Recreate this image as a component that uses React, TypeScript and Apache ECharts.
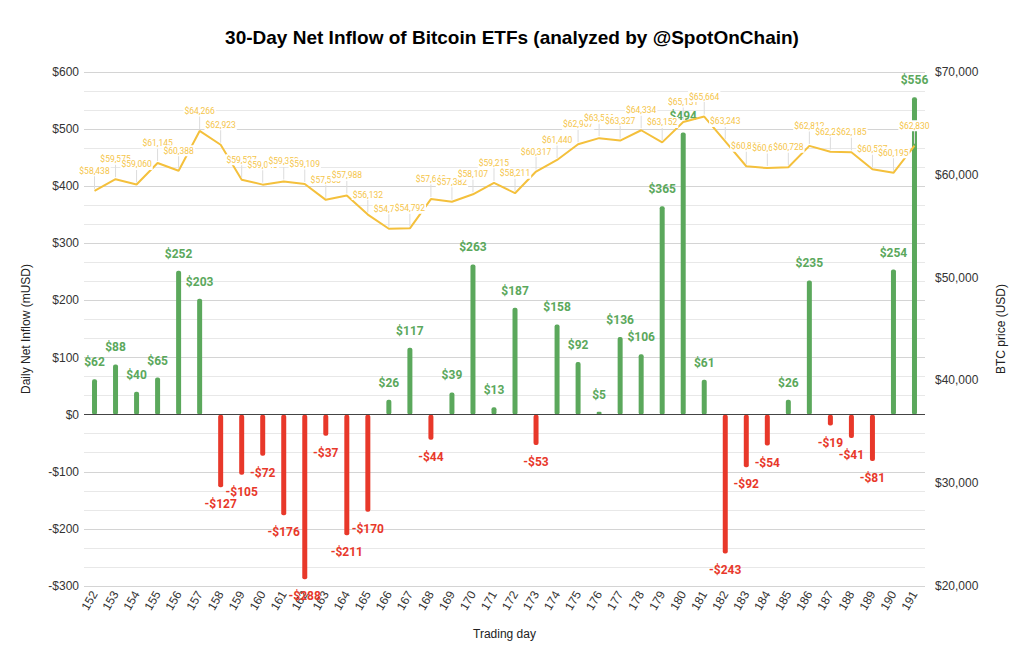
import React, { useEffect, useRef } from "react";
import * as echarts from "echarts";

const tradingDays = [
  "152", "153", "154", "155", "156", "157", "158", "159", "160", "161",
  "162", "163", "164", "165", "166", "167", "168", "169", "170", "171",
  "172", "173", "174", "175", "176", "177", "178", "179", "180", "181",
  "182", "183", "184", "185", "186", "187", "188", "189", "190", "191",
];

const netInflow = [
  62, 88, 40, 65, 252, 203, -127, -105, -72, -176,
  -288, -37, -211, -170, 26, 117, -44, 39, 263, 13,
  187, -53, 158, 92, 5, 136, 106, 365, 494, 61,
  -243, -92, -54, 26, 235, -19, -41, -81, 254, 556,
];

const btcPrice = [
  58438, 59575, 59060, 61145, 60388, 64266, 62923, 59527, 59043, 59352,
  59109, 57563, 57988, 56132, 54750, 54792, 57640, 57382, 58107, 59215,
  58211, 60317, 61440, 62967, 63566, 63327, 64334, 63152, 65131, 65664,
  63243, 60833, 60650, 60728, 62812, 62250, 62185, 60537, 60195, 62830,
];

const inflowAxis = { min: -300, max: 600, interval: 100 };
const priceAxis = { min: 20000, max: 70000, interval: 10000 };

const GREEN = "#5ba85c";
const RED = "#e8382a";
const YELLOW = "#f4c03c";
const AXIS_FONT = "'Liberation Sans', Arial, sans-serif";

const fmtInflow = (v: number) => (v < 0 ? "-$" + Math.abs(v) : "$" + v);
const fmtPrice = (v: number) => "$" + v.toLocaleString("en-US");

export default function App() {
  const ref = useRef<HTMLDivElement>(null);

  useEffect(() => {
    if (!ref.current) return;
    const chart = echarts.init(ref.current, undefined, { renderer: "svg" });

    const barData = netInflow.map((v) => ({
      value: v,
      itemStyle: { color: v >= 0 ? GREEN : RED },
      label: {
        position: v >= 0 ? "top" : "bottom",
        color: v >= 0 ? GREEN : RED,
      },
    }));

    chart.setOption({
      animation: false,
      backgroundColor: "#ffffff",
      title: {
        text: "30-Day Net Inflow of Bitcoin ETFs (analyzed by @SpotOnChain)",
        left: "center",
        top: 23,
        textStyle: {
          fontFamily: AXIS_FONT,
          fontSize: 19,
          fontWeight: "bold",
          color: "#000",
        },
      },
      grid: { left: 84, right: 99, top: 72, bottom: 71 },
      xAxis: {
        type: "category",
        data: tradingDays,
        boundaryGap: true,
        axisLine: { show: false, onZero: false },
        axisTick: { show: false },
        axisLabel: {
          rotate: 60,
          fontFamily: AXIS_FONT,
          fontSize: 12,
          color: "#333",
          margin: 6,
          interval: 0,
        },
        name: "Trading day",
        nameLocation: "middle",
        nameGap: 42,
        nameTextStyle: { fontFamily: AXIS_FONT, fontSize: 12, color: "#222" },
      },
      yAxis: [
        {
          type: "value",
          min: inflowAxis.min,
          max: inflowAxis.max,
          interval: inflowAxis.interval,
          axisLine: { show: false },
          axisTick: { show: false },
          axisLabel: {
            formatter: (v: number) => fmtInflow(v),
            fontFamily: AXIS_FONT,
            fontSize: 12,
            color: "#333",
            margin: 5,
          },
          splitLine: { show: true, lineStyle: { color: "#d4d4d4", width: 1 } },
          minorTick: { show: false, splitNumber: 3 },
          minorSplitLine: { show: true, lineStyle: { color: "#e8e8e8", width: 1 } },
          name: "Daily Net Inflow (mUSD)",
          nameLocation: "middle",
          nameGap: 52,
          nameTextStyle: { fontFamily: AXIS_FONT, fontSize: 12, color: "#222" },
        },
        {
          type: "value",
          min: priceAxis.min,
          max: priceAxis.max,
          interval: priceAxis.interval,
          position: "right",
          axisLine: { show: false },
          axisTick: { show: false },
          splitLine: { show: false },
          axisLabel: {
            formatter: (v: number) => fmtPrice(v),
            fontFamily: AXIS_FONT,
            fontSize: 12,
            color: "#333",
            margin: 10,
          },
          name: "BTC price (USD)",
          nameLocation: "middle",
          nameGap: 70,
          nameTextStyle: { fontFamily: AXIS_FONT, fontSize: 12, color: "#222" },
        },
      ],
      series: [
        {
          type: "bar",
          yAxisIndex: 0,
          data: barData,
          barWidth: 5,
          itemStyle: { borderRadius: 2 },
          label: {
            show: true,
            formatter: (p: any) => fmtInflow(p.value),
            fontFamily: "Roboto, sans-serif",
            fontWeight: "bold",
            fontSize: 12,
            distance: 11,
          },
          markLine: {
            silent: true,
            symbol: ["none", "none"],
            label: { show: false },
            lineStyle: { color: "#444", width: 1, type: "solid" },
            data: [{ yAxis: 0 }],
          },
          z: 2,
        },
        {
          type: "line",
          yAxisIndex: 1,
          data: btcPrice,
          showSymbol: false,
          symbol: "none",
          lineStyle: { color: YELLOW, width: 2 },
          itemStyle: { color: YELLOW },
          z: 3,
        },
        {
          type: "custom",
          yAxisIndex: 1,
          data: btcPrice.map((p, i) => [i, p]),
          encode: { x: 0, y: 1 },
          z: 4,
          renderItem: (params: any, api: any) => {
            const idx = api.value(0);
            const price = api.value(1);
            const pt = api.coord([idx, price]);
            const x = pt[0];
            const y = pt[1];
            return {
              type: "group",
              children: [
                {
                  type: "line",
                  shape: { x1: x, y1: y - 2, x2: x, y2: y - 16 },
                  style: { stroke: "#dcdcdc", lineWidth: 1 },
                },
                {
                  type: "text",
                  x: x,
                  y: y - 20,
                  style: {
                    text: fmtPrice(price),
                    fill: "#f5c54a",
                    font: "8.5px Roboto, sans-serif",
                    align: "center",
                    verticalAlign: "middle",
                    backgroundColor: "#ffffff",
                    padding: [1, 1],
                  },
                },
              ],
            };
          },
        },
      ],
    });

    return () => chart.dispose();
  }, []);

  return (
    <div
      ref={ref}
      style={{ position: "fixed", left: 0, top: 0, width: 1024, height: 657 }}
    />
  );
}
